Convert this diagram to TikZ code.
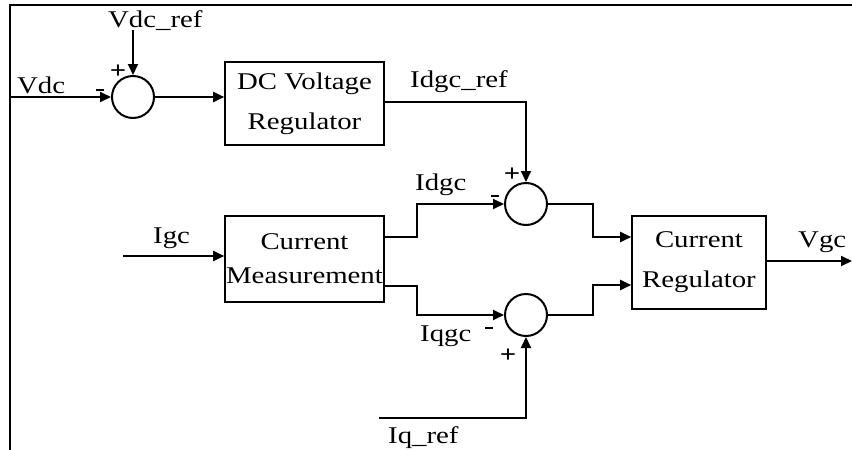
\documentclass[tikz,border=0pt]{standalone}
\usepackage{fontspec}
\setmainfont{Liberation Serif}[FakeStretch=1.2]
\usetikzlibrary{arrows.meta}
\begin{document}
\begin{tikzpicture}[x=1pt,y=-1pt,
  wire/.style={line width=2pt},
  arr/.style={wire,-{Triangle[length=11pt,width=10pt]}},
  sumnode/.style={circle,draw,line width=2pt,minimum size=42pt,inner sep=0pt},
  blockbox/.style={draw,line width=1.6pt,inner sep=0pt,align=center},
  lbl/.style={font=\fontsize{24}{28}\selectfont,inner sep=0pt},
  sgn/.style={font=\bfseries\fontsize{24}{28}\selectfont,inner sep=0pt},
  msgn/.style={inner sep=0pt}]
\useasboundingbox (0,0) rectangle (852,450);
\fill[white] (0,0) rectangle (852,450);
% frame
\coordinate (fbl) at (10,450);
\coordinate (ftl) at (10,5);
\coordinate (ftr) at (852,5);
\draw[line width=2pt] (fbl) -- (ftl) -- (ftr);

% summing junctions
\node[sumnode] (s1) at (133,97) {};
\node[sumnode] (s2) at (526,204) {};
\node[sumnode] (s3) at (526,315) {};

% blocks
\node[blockbox,minimum width=159pt,minimum height=83pt,
  font=\fontsize{24}{40}\selectfont] (dc) at (304.5,103.5) {DC Voltage\\Regulator};
\node[blockbox,minimum width=159pt,minimum height=86pt,
  font=\fontsize{24}{34}\selectfont] (cm) at (304.5,259) {Current\\Measurement};
\node[blockbox,minimum width=134pt,minimum height=93pt,
  font=\fontsize{24}{40}\selectfont] (cr) at (699,262.5) {Current\\Regulator};

% free ends
\coordinate (vdcin) at (10,97);
\coordinate (vdcref) at (133,30);
\coordinate (igcin) at (123,256);
\coordinate (iqrefin) at (379,418);
\coordinate (vgcout) at (852,261);

% connectors
\draw[arr] (vdcin) -- (s1.west);
\draw[arr] (vdcref) -- (s1.north);
\draw[arr] (s1.east) -- (s1.east -| dc.west);
\draw[arr] (dc.east |- 0,102) -- (526,102) -- (s2.north);
\draw[arr] (igcin) -- (igcin -| cm.west);
\draw[arr] (cm.east |- 0,237) -- (417,237) -- (417,204) -- (s2.west);
\draw[arr] (cm.east |- 0,286) -- (417,286) -- (417,315) -- (s3.west);
\draw[arr] (iqrefin) -- (526,418) -- (s3.south);
\draw[arr] (s2.east) -- (593,204) -- (593,237) -- (cr.west |- 0,237);
\draw[arr] (s3.east) -- (593,315) -- (593,285) -- (cr.west |- 0,285);
\draw[arr] (cr.east |- 0,261) -- (vgcout);

% labels
\node[lbl,anchor=base west] (lvdcref) at (108,27) {Vdc\_ref};
\node[lbl,anchor=base west] (lvdc) at (17,93) {Vdc};
\node[lbl,anchor=base west] (lidgcref) at (410,87) {Idgc\_ref};
\node[lbl,anchor=base west] (lidgc) at (415,190) {Idgc};
\node[lbl,anchor=base west] (ligc) at (153,243) {Igc};
\node[lbl,anchor=base west] (liqgc) at (420,341) {Iqgc};
\node[lbl,anchor=base west] (liqref) at (388,443) {Iq\_ref};
\node[lbl,anchor=base west] (lvgc) at (798,247) {Vgc};

% signs
\node[sgn] (p1) at (118,72) {+};
\node[msgn] (m1) at (100,90) {\rule{8pt}{2pt}};
\node[sgn] (p2) at (512,175) {+};
\node[msgn] (m2) at (495,196) {\rule{8pt}{2pt}};
\node[msgn] (m3) at (489,328) {\rule{8pt}{2pt}};
\node[sgn] (p3) at (508,356) {+};
\end{tikzpicture}
\end{document}
